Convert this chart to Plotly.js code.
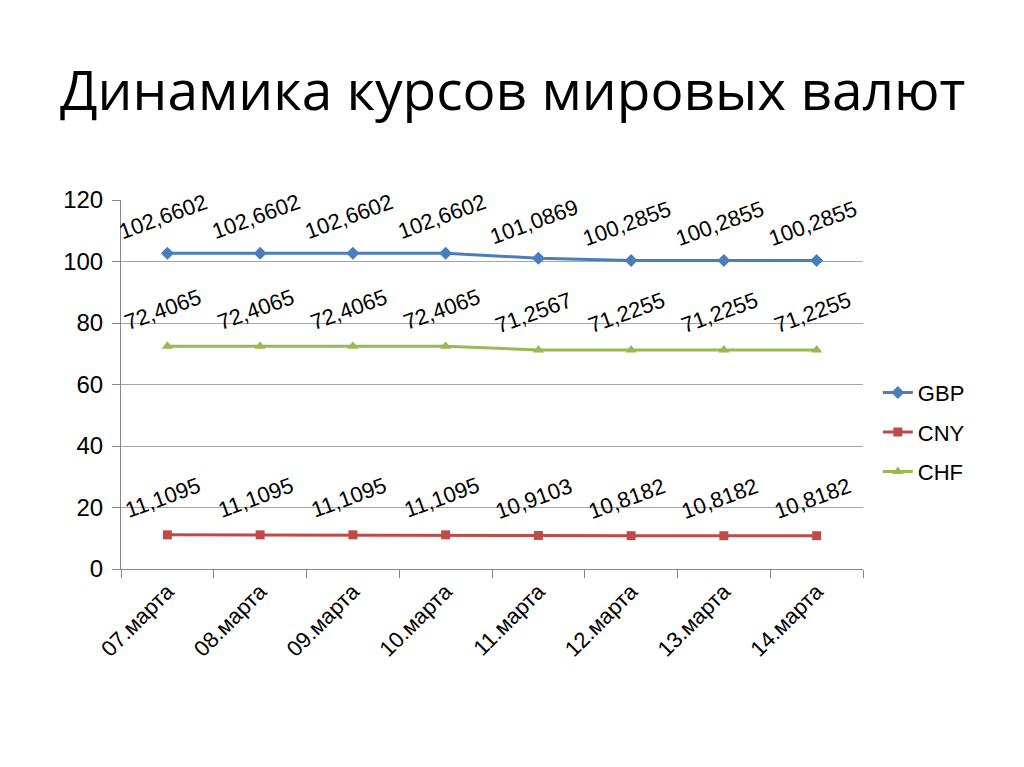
<!DOCTYPE html>
<html>
<head>
<meta charset="utf-8">
<script src="https://cdn.plot.ly/plotly-3.0.1.min.js"></script>
<style>html,body{margin:0;padding:0;background:#fff;}#chart{width:1024px;height:767px;}</style>
</head>
<body>
<div id="chart"></div>
<script>
const categories = ["07.марта","08.марта","09.марта","10.марта","11.марта","12.марта","13.марта","14.марта"];
const gbp = [102.6602,102.6602,102.6602,102.6602,101.0869,100.2855,100.2855,100.2855];
const cny = [11.1095,11.1095,11.1095,11.1095,10.9103,10.8182,10.8182,10.8182];
const chf = [72.4065,72.4065,72.4065,72.4065,71.2567,71.2255,71.2255,71.2255];
const yTicks = [0,20,40,60,80,100,120];

const FONT = "Open Sans, sans-serif";
const NARROW = "Liberation Sans Narrow, Arial Narrow, sans-serif";
const series = [
  {name:"GBP", values:gbp, color:"#4A7EBB", symbol:"diamond", size:10},
  {name:"CNY", values:cny, color:"#BE4B48", symbol:"square", size:9},
  {name:"CHF", values:chf, color:"#98B954", symbol:"triangle-up", size:10}
];

const traces = series.map(s => ({
  type:"scatter", mode:"lines+markers", name:s.name, x:categories, y:s.values,
  legendgroup:s.name,
  line:{color:s.color, width:3},
  marker:{symbol:s.symbol, size:s.size, color:s.color},
  hoverinfo:"skip"
}));

const fmt = v => v.toFixed(4).replace(".", ",");
const annotations = [];
series.forEach(s => {
  s.values.forEach((v,i) => {
    annotations.push({
      x:categories[i], y:v, xref:"x", yref:"y", text:fmt(v), showarrow:false,
      textangle:-20, yshift:37, xshift:-4,
      font:{family:NARROW, size:22, color:"#000"}
    });
  });
});

const layout = {
  width:1024, height:767,
  paper_bgcolor:"#fff", plot_bgcolor:"#fff",
  margin:{l:121, r:161, t:200, b:198},
  title:{text:"Динамика курсов мировых валют", xref:"container", yref:"container",
    x:60/1024, xanchor:"left", y:(767-91)/767, yanchor:"middle",
    font:{family:FONT, size:55, color:"#000"}},
  showlegend:true,
  legend:{x:1.02, xanchor:"left", y:0.535, yanchor:"top",
    font:{family:NARROW, size:22, color:"#000"}, tracegroupgap:8, bgcolor:"rgba(0,0,0,0)"},
  xaxis:{type:"category", tickson:"boundaries", ticks:"outside", ticklen:8, tickcolor:"#868686",
    showline:true, linecolor:"#868686", linewidth:1, showgrid:false, tickangle:-45,
    tickfont:{family:NARROW, size:22, color:"#000"}, range:[-0.5,7.5], fixedrange:true},
  yaxis:{range:[0,120], tickvals:yTicks, ticks:"outside", ticklen:8, tickcolor:"#868686",
    showline:true, linecolor:"#868686", linewidth:1, showgrid:true, gridcolor:"#a6a6a6", gridwidth:1,
    zeroline:false, tickfont:{family:NARROW, size:24, color:"#000"}, ticklabelstandoff:4},
  annotations:annotations
};

Plotly.newPlot("chart", traces, layout, {displayModeBar:false, staticPlot:true});
</script>
</body>
</html>
